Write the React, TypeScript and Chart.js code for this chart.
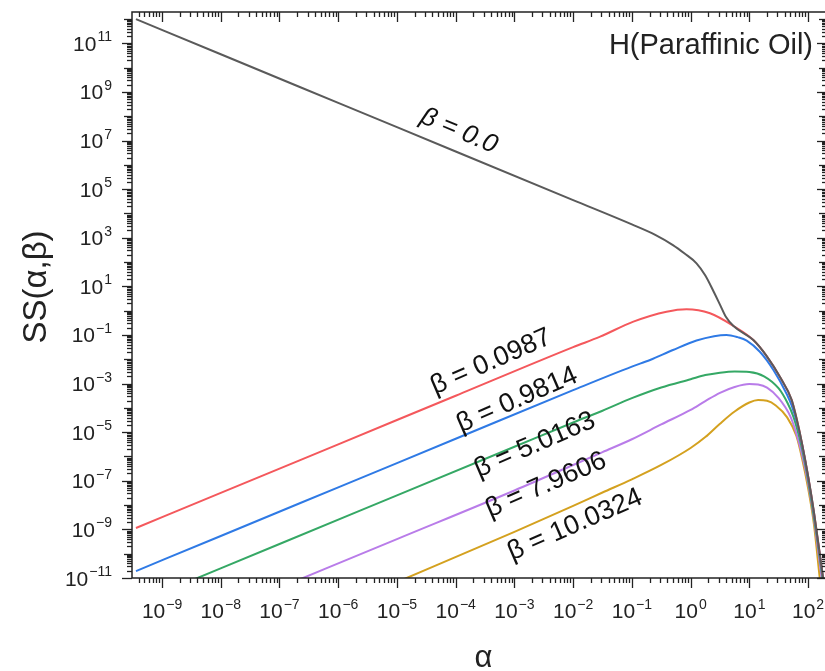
import React, { useEffect, useRef } from 'react';
import { Chart, registerables } from 'chart.js';

Chart.register(...registerables);

const FONT = "'Liberation Sans', Arial, Helvetica, sans-serif";

// ---- axis labels ----
const xTickExponents = [-9, -8, -7, -6, -5, -4, -3, -2, -1, 0, 1, 2];
const yTickExponents = [11, 9, 7, 5, 3, 1, -1, -3, -5, -7, -9, -11];
const xTitle = 'α';
const yTitle = 'SS(α,β)';
const panelTitle = 'H(Paraffinic Oil)';

// ---- series data ----
const alphaB0 = [3.6e-10, 1e-8, 1e-6, 1e-4, 1e-2, 0.1, 0.25, 0.5, 0.79, 1.26, 1.78, 2.51, 3.16, 3.98, 5.37, 11.7, 20, 33.1, 52.5, 64.6, 79.4, 100, 126, 158, 200];
const ssB0 = [9.9e11, 3.55e10, 3.55e8, 3.55e6, 3.55e4, 3.55e3, 1.32e3, 500, 224, 89, 28, 5.6, 1.78, 0.56, 0.234, 0.0617, 0.0129, 1.9e-3, 2.14e-4, 3.16e-5, 3.16e-6, 1.58e-7, 5e-9, 1e-10, 1.58e-12];

const alphaB1 = [3.6e-10, 1e-8, 1e-6, 1e-4, 1e-2, 0.0288, 0.106, 0.389, 0.85, 2.14, 5.37, 11.7, 20, 33.1, 52.5, 64.6, 79.4, 100, 126, 158, 200];
const ssB1 = [1.14e-9, 3.16e-8, 3.16e-6, 3.16e-4, 3.16e-2, 0.085, 0.355, 0.91, 1.15, 0.78, 0.234, 0.0617, 0.0129, 1.9e-3, 2.14e-4, 3.16e-5, 3.16e-6, 1.58e-7, 5.0e-9, 1e-10, 1.58e-12];

const alphaB2 = [3.6e-10, 1e-8, 1e-6, 1e-4, 1e-2, 0.1, 0.204, 0.501, 1.26, 2.51, 4.07, 6.31, 9.02, 15.1, 25.7, 43.7, 52.5, 64.6, 79.4, 100, 126, 158, 200];
const ssB2 = [1.93e-11, 5.37e-10, 5.37e-8, 5.37e-6, 5.37e-4, 5.0e-3, 9.3e-3, 0.024, 0.0589, 0.0891, 0.1, 0.0813, 0.0589, 0.0204, 3.63e-3, 3.55e-4, 1.26e-4, 2.51e-5, 2.82e-6, 1.41e-7, 4.47e-9, 8.9e-11, 1.41e-12];

const alphaB3 = [3.16e-9, 1e-7, 1e-5, 1e-3, 1e-2, 0.0316, 0.1, 0.316, 1.0, 1.78, 3.16, 5.62, 10, 17.8, 31.6, 44.7, 56.2, 70.8, 89.1, 112, 141, 178];
const ssB3 = [7.9e-12, 2.51e-10, 2.51e-8, 2.51e-6, 2.51e-5, 7.6e-5, 2.51e-4, 6.9e-4, 1.51e-3, 2.24e-3, 2.82e-3, 3.16e-3, 3.02e-3, 2.0e-3, 6.3e-4, 1.58e-4, 4.37e-5, 6.3e-6, 5.0e-7, 2.0e-8, 5.0e-10, 7.9e-12];

const alphaB4 = [1.58e-7, 1e-5, 1e-3, 1e-2, 0.0316, 0.1, 0.316, 1.0, 1.78, 3.16, 5.62, 10, 14.1, 20, 31.6, 50.1, 63.1, 79.4, 100, 126, 158, 200];
const ssB4 = [6.3e-12, 3.98e-10, 3.98e-8, 4.47e-7, 1.51e-6, 5.13e-6, 2.09e-5, 8.3e-5, 1.91e-4, 4.17e-4, 7.24e-4, 9.55e-4, 9.1e-4, 6.76e-4, 2.51e-4, 4.37e-5, 8.9e-6, 1.12e-6, 7.9e-8, 2.51e-9, 3.98e-11, 5e-13];

const alphaB5 = [1e-5, 1e-3, 1e-2, 0.0316, 0.1, 0.316, 1.0, 1.78, 3.16, 5.62, 10, 14.1, 20, 28.2, 43.7, 63.1, 79.4, 100, 126, 158, 191];
const ssB5 = [6.8e-12, 7.9e-10, 9.3e-9, 3.3e-8, 1.15e-7, 4.47e-7, 2.24e-6, 6.3e-6, 2.24e-5, 7.1e-5, 1.66e-4, 2.09e-4, 1.95e-4, 1.26e-4, 4.17e-5, 7.1e-6, 7.9e-7, 5.0e-8, 1.58e-9, 1e-11, 1.6e-13];

const seriesAlpha = [alphaB0, alphaB1, alphaB2, alphaB3, alphaB4, alphaB5];
const seriesSS = [ssB0, ssB1, ssB2, ssB3, ssB4, ssB5];
const seriesNames = ['β = 0.0', 'β = 0.0987', 'β = 0.9814', 'β = 5.0163', 'β = 7.9606', 'β = 10.0324'];
const seriesColors = ['#5a5a5a', '#f4585c', '#2f7ae5', '#35a865', '#b97ce9', '#d4a11f'];

// label anchors (data coordinates)
const labelAlpha = [1.14e-4, 4.0e-4, 1.11e-3, 2.24e-3, 3.45e-3, 1.08e-2];
const labelSS = [2.48e7, 7.8e-3, 2.11e-4, 2.97e-6, 6.7e-8, 1.52e-9];

const X_MIN = 3.08e-10;
const X_MAX = 210;
const Y_MIN = 1e-11;
const Y_MAX = 1.95e12;

function drawPow(ctx: CanvasRenderingContext2D, exp: number, x: number, baseY: number, align: 'center' | 'right') {
  const base = '10';
  const e = exp < 0 ? '\u2212' + Math.abs(exp) : String(exp);
  ctx.font = `21px ${FONT}`;
  const wb = ctx.measureText(base).width;
  ctx.font = `14px ${FONT}`;
  const we = ctx.measureText(e).width;
  const total = wb + we + 1;
  const x0 = align === 'center' ? x - total / 2 : x - total;
  ctx.textAlign = 'left';
  ctx.textBaseline = 'alphabetic';
  ctx.font = `21px ${FONT}`;
  ctx.fillText(base, x0, baseY);
  ctx.font = `14px ${FONT}`;
  ctx.fillText(e, x0 + wb + 1, baseY - 9.5);
}

const decorPlugin = {
  id: 'decor',
  afterDatasetsDraw(chart: any) {
    const { ctx, chartArea: a, scales } = chart;
    const xs = scales.x;
    const ys = scales.y;
    ctx.save();
    // beta labels
    seriesNames.forEach((name, i) => {
      const px = xs.getPixelForValue(labelAlpha[i]);
      const py = ys.getPixelForValue(labelSS[i]);
      ctx.save();
      ctx.translate(px, py);
      ctx.rotate(((i === 0 ? 23 : -23.5) * Math.PI) / 180);
      ctx.fillStyle = '#111';
      ctx.font = i === 0 ? `italic 26px ${FONT}` : `27px ${FONT}`;
      ctx.textAlign = 'center';
      ctx.textBaseline = 'middle';
      ctx.fillText(name, 0, 0);
      ctx.restore();
    });

    // frame
    ctx.strokeStyle = '#222';
    ctx.lineWidth = 1.5;
    ctx.strokeRect(a.left, a.top, a.right - a.left, a.bottom - a.top);
    ctx.lineWidth = 1.3;
    const seg = (x1: number, y1: number, x2: number, y2: number) => {
      ctx.beginPath();
      ctx.moveTo(x1, y1);
      ctx.lineTo(x2, y2);
      ctx.stroke();
    };
    // x ticks
    for (let e = -10; e <= 2; e++) {
      for (let m = 1; m <= 9; m++) {
        const v = m * Math.pow(10, e);
        if (v < xs.min || v > xs.max) continue;
        const px = Math.round(xs.getPixelForValue(v)) + 0.5;
        const len = m === 1 ? 10 : 5;
        seg(px, a.bottom, px, a.bottom + len);
        seg(px, a.top, px, a.top + len);
      }
    }
    // y ticks
    for (let e = -11; e <= 12; e++) {
      for (let m = 1; m <= 9; m++) {
        const v = m * Math.pow(10, e);
        if (v < ys.min || v > ys.max) continue;
        const py = Math.round(ys.getPixelForValue(v)) + 0.5;
        const len = m === 1 ? (Math.abs(e) % 2 === 1 ? 10 : 8) : 5;
        seg(a.left - len, py, a.left, py);
        seg(a.right - len, py, a.right, py);
      }
    }
    // tick labels
    ctx.fillStyle = '#222';
    xTickExponents.forEach((e) => {
      drawPow(ctx, e, xs.getPixelForValue(Math.pow(10, e)), 618, 'center');
    });
    yTickExponents.forEach((e) => {
      drawPow(ctx, e, 112, ys.getPixelForValue(Math.pow(10, e)) + 7.5, 'right');
    });
    // axis titles
    ctx.fillStyle = '#222';
    ctx.font = `31px ${FONT}`;
    ctx.textAlign = 'center';
    ctx.textBaseline = 'alphabetic';
    ctx.fillText(xTitle, (a.left + a.right) / 2 + 4, 667);
    ctx.save();
    ctx.translate(37, 287);
    ctx.rotate(-Math.PI / 2);
    ctx.textBaseline = 'middle';
    ctx.font = `33px ${FONT}`;
    ctx.fillText(yTitle, 0, 0);
    ctx.restore();
    // panel title
    ctx.font = `29px ${FONT}`;
    ctx.textAlign = 'right';
    ctx.textBaseline = 'alphabetic';
    ctx.fillStyle = '#222';
    ctx.fillText(panelTitle, 813, 54);
    ctx.restore();
  },
};

export default function App() {
  const ref = useRef<HTMLCanvasElement>(null);
  useEffect(() => {
    if (!ref.current) return;
    const chart = new Chart(ref.current, {
      type: 'line',
      data: {
        datasets: seriesNames.map((name, i) => ({
          label: name,
          data: seriesAlpha[i].map((a, j) => ({ x: a, y: seriesSS[i][j] })),
          borderColor: seriesColors[i],
          backgroundColor: seriesColors[i],
          borderWidth: 2,
          pointRadius: 0,
          fill: false,
          cubicInterpolationMode: 'monotone' as const,
        })),
      },
      options: {
        animation: false,
        responsive: false,
        devicePixelRatio: 1,
        layout: { padding: { left: 0, top: 12, right: 3, bottom: 0 } },
        plugins: { legend: { display: false }, tooltip: { enabled: false } },
        scales: {
          x: {
            type: 'logarithmic',
            min: X_MIN,
            max: X_MAX,
            bounds: 'data',
            grid: { display: false },
            border: { display: false },
            ticks: { display: false },
            afterFit: (s: any) => { s.height = 93; },
          },
          y: {
            type: 'logarithmic',
            min: Y_MIN,
            max: Y_MAX,
            bounds: 'data',
            grid: { display: false },
            border: { display: false },
            ticks: { display: false },
            afterFit: (s: any) => { s.width = 132; },
          },
        },
      },
      plugins: [decorPlugin],
    } as any);
    return () => chart.destroy();
  }, []);
  return (
    <div style={{ position: 'fixed', left: 0, top: 0, width: 825, height: 671, overflow: 'hidden', background: '#fff' }}>
      <canvas ref={ref} width={830} height={671} style={{ display: 'block', width: 830, height: 671 }} />
    </div>
  );
}
